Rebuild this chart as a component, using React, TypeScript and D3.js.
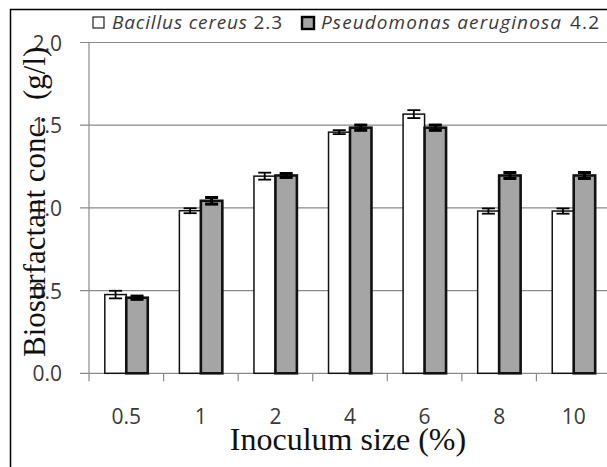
import * as d3 from "d3";

const categories = ["0.5", "1", "2", "4", "6", "8", "10"];
const seriesNames = ["Bacillus cereus", "Pseudomonas aeruginosa"];
const seriesTags = ["2.3", "4.2"];
const bacillus = [0.476, 0.983, 1.192, 1.458, 1.567, 0.981, 0.981];
const bacillusErr = [0.023, 0.015, 0.021, 0.012, 0.024, 0.016, 0.016];
const pseudomonas = [0.457, 1.043, 1.196, 1.485, 1.485, 1.196, 1.196];
const pseudomonasErr = [0.01, 0.02, 0.012, 0.016, 0.016, 0.018, 0.018];
const yTicks = [0, 0.5, 1, 1.5, 2];

const W = 607;
const H = 467;
const left = 89;
const right = 611;
const top = 42.5;
const bottom = 373.3;

const sans = "'Open Sans', 'DejaVu Sans', sans-serif";
const serif = "'Liberation Serif', 'Times New Roman', serif";
const textCol = "#3a3a3a";
const gridCol = "#8a8a8a";

const App = () => {
  const x = d3
    .scaleBand<string>()
    .domain(categories)
    .range([left, right])
    .paddingInner(0.424)
    .paddingOuter(0.212);
  const xSub = d3
    .scaleBand<number>()
    .domain([0, 1])
    .range([0, x.bandwidth()]);
  const y = d3.scaleLinear().domain([0, 2]).range([bottom, top]);
  const step = x.step();

  const series = [
    { vals: bacillus, errs: bacillusErr, fill: "#ffffff", sw: 1.5, ew: 1.8 },
    { vals: pseudomonas, errs: pseudomonasErr, fill: "#a5a5a5", sw: 2.6, ew: 3 },
  ];

  return (
    <svg
      width={W}
      height={H}
      style={{ position: "absolute", left: 0, top: 0, background: "#fff" }}
    >
      <rect x={10.5} y={9.5} width={W + 20} height={H + 20} fill="#fff" stroke="#000" strokeWidth={1.5} />

      {/* gridlines + y ticks */}
      {yTicks.map((t) => (
        <g key={t}>
          <line x1={left - 9} x2={right} y1={y(t)} y2={y(t)} stroke={gridCol} strokeWidth={1.2} />
          <text
            x={62}
            y={y(t)}
            textAnchor="end"
            dominantBaseline="central"
            fontFamily={sans}
            fontSize={21}
            fill={textCol}
          >
            {d3.format(".1f")(t)}
          </text>
        </g>
      ))}
      <line x1={left} x2={left} y1={top} y2={bottom} stroke={gridCol} strokeWidth={1.2} />
      {d3.range(categories.length + 1).map((i) => (
        <line
          key={i}
          x1={left + i * step}
          x2={left + i * step}
          y1={bottom}
          y2={bottom + 8}
          stroke={gridCol}
          strokeWidth={1.2}
        />
      ))}

      {/* bars */}
      {series.map((s, si) =>
        categories.map((c, i) => {
          const bx = (x(c) as number) + (xSub(si) as number);
          const bw = xSub.bandwidth();
          const cx = bx + bw / 2;
          const v = s.vals[i];
          const e = s.errs[i];
          return (
            <g key={si + "-" + c}>
              <rect
                x={bx}
                y={y(v)}
                width={bw}
                height={bottom - y(v)}
                fill={s.fill}
                stroke="#111"
                strokeWidth={s.sw}
              />
              <line x1={cx} x2={cx} y1={y(v + e)} y2={y(v - e)} stroke="#000" strokeWidth={s.ew} />
              <line x1={cx - 6.5} x2={cx + 6.5} y1={y(v + e)} y2={y(v + e)} stroke="#000" strokeWidth={s.ew} />
              <line x1={cx - 6.5} x2={cx + 6.5} y1={y(v - e)} y2={y(v - e)} stroke="#000" strokeWidth={s.ew} />
            </g>
          );
        })
      )}

      {/* x labels */}
      {categories.map((c) => (
        <text
          key={c}
          x={(x(c) as number) + x.bandwidth() / 2}
          y={424}
          textAnchor="middle"
          fontFamily={sans}
          fontSize={21}
          fill={textCol}
        >
          {c}
        </text>
      ))}

      {/* axis titles */}
      <text x={348} y={450} textAnchor="middle" fontFamily={serif} fontSize={32} fill="#111">
        Inoculum size (%)
      </text>
      <text
        transform="translate(45,357) rotate(-90)"
        fontFamily={serif}
        fontSize={31}
        fill="#111"
      >
        Biosurfactant conc.
        <tspan dx={16}>(g/l)</tspan>
      </text>

      {/* legend */}
      <rect x={93} y={17} width={11} height={11} fill="#fff" stroke="#222" strokeWidth={1.2} />
      <text
        x={112}
        y={28.5}
        fontFamily={sans}
        fontSize={19}
        fill={textCol}
        textLength={170}
        lengthAdjust="spacing"
      >
        <tspan fontStyle="italic">{seriesNames[0]}</tspan> {seriesTags[0]}
      </text>
      <rect x={302} y={17} width={12} height={12} fill="#a5a5a5" stroke="#000" strokeWidth={2.4} />
      <text
        x={321}
        y={28.5}
        fontFamily={sans}
        fontSize={19}
        fill={textCol}
        textLength={278}
        lengthAdjust="spacing"
      >
        <tspan fontStyle="italic">{seriesNames[1]}</tspan>
        <tspan dx={8}>{seriesTags[1]}</tspan>
      </text>
    </svg>
  );
};

export default App;
